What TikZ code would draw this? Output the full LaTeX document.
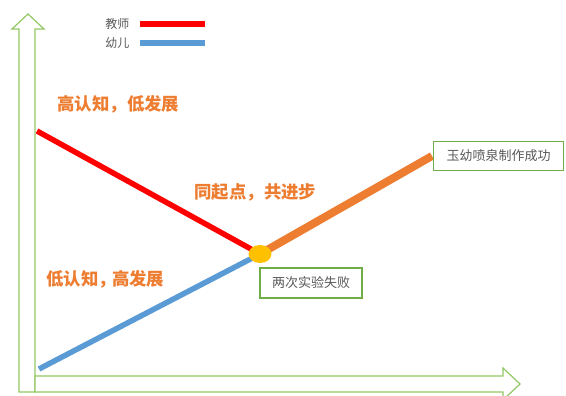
\documentclass[tikz,border=0pt]{standalone}
\usepackage{fontspec}
\setmainfont{Noto Sans CJK SC}
\usetikzlibrary{shapes.geometric}

\definecolor{axisgreen}{RGB}{146,200,100}
\definecolor{boxgreen}{RGB}{112,173,71}
\definecolor{kidblue}{RGB}{91,155,213}
\definecolor{stepsorange}{RGB}{237,125,49}
\definecolor{spotyellow}{RGB}{255,192,0}
\definecolor{labelgray}{RGB}{89,89,89}

\begin{document}
\begin{tikzpicture}[x=1pt,y=-1pt,
    axisarrow/.style={draw=axisgreen,line width=1.2pt,fill=white},
    teacher/.style={red,line width=5.5pt},
    kid/.style={kidblue,line width=5.5pt},
    growth/.style={stepsorange,line width=8pt},
    slogan/.style={text=stepsorange,font=\fontsize{17.4}{19}\selectfont\bfseries},
    legendtxt/.style={text=labelgray,font=\fontsize{12}{14}\selectfont},
    eventbox/.style={draw=boxgreen,line width=1.2pt,fill=white,text=labelgray,
      font=\fontsize{13}{15}\selectfont,minimum height=30pt}]
    \useasboundingbox (0,0) rectangle (566,396);
    % axes as hollow block arrows
    \draw[axisarrow] (19,392) -- (19,29) -- (12,29) -- (28,14) -- (44,29)
      -- (35,29) -- (35,392) -- cycle;
    \draw[axisarrow] (35,392) -- (35,376) -- (503,376) -- (503,368)
      -- (520,384) -- (503,400) -- (503,392) -- cycle;
    % legend
    \node[legendtxt,anchor=east] (lgT) at (133,24) {教师};
    \node[legendtxt,anchor=east] (lgK) at (133,43) {幼儿};
    \coordinate (lgTe) at (205,24);
    \coordinate (lgKe) at (205,43);
    \draw[teacher] ([xshift=7pt]lgT.east) -- (lgTe);
    \draw[kid] ([xshift=7pt]lgK.east) -- (lgKe);
    % curves
    \coordinate (t0) at (37,131);
    \coordinate (k0) at (39,369);
    \coordinate (meet) at (260,254);
    \coordinate (goal) at (432,156);
    \draw[teacher] (t0) -- (meet);
    \draw[kid] (k0) -- (meet);
    \draw[growth] (meet) -- (goal);
    \node[ellipse,fill=spotyellow,minimum width=23pt,minimum height=18pt,
      inner sep=0pt] (spot) at (meet) {};
    % labels
    \node[slogan,anchor=west] (hiT) at (54,104) {高认知，低发展};
    \node[slogan,anchor=west] (same) at (191,192) {同起点，共进步};
    \node[slogan,anchor=west] (loK) at (43,279) {低认知，\hspace{-4pt}高发展};
    \node[eventbox,minimum width=102pt] (fail) at (311,283) {两次实验失败};
    \node[eventbox,minimum width=130pt,minimum height=29pt] (success) at (498.5,156) {玉幼喷泉制作成功};
  \end{tikzpicture}
\end{document}
